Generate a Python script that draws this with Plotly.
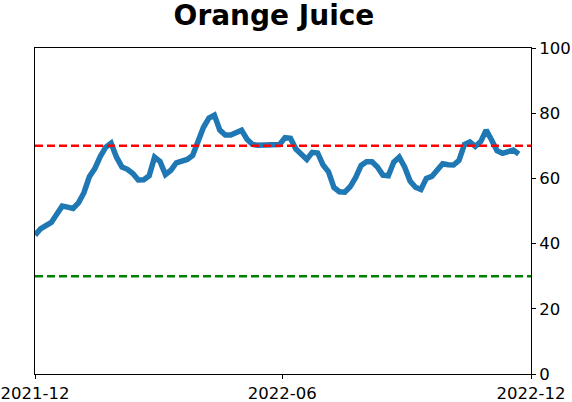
import pandas as pd
import plotly.graph_objects as go

TITLE = "Orange Juice"
START = "2021-12-01"
STEP = "4D"
VALUES = [
    42.6, 44.5, 45.5, 46.5, 49.0, 51.5, 51.2, 50.8, 52.5, 55.6,
    60.5, 63.0, 66.7, 69.5, 70.8, 66.5, 63.5, 62.8, 61.5, 59.5,
    59.6, 60.8, 66.5, 65.2, 61.2, 62.5, 64.8, 65.4, 65.8, 67.0,
    72.0, 75.7, 78.5, 79.4, 74.8, 73.3, 73.3, 74.2, 74.8, 72.0,
    70.4, 70.2, 70.2, 70.6, 70.2, 70.4, 72.5, 72.3, 69.0, 67.5,
    65.8, 68.0, 67.8, 64.1, 62.0, 57.2, 55.9, 55.8, 57.5, 60.3,
    64.0, 65.1, 65.1, 63.5, 61.0, 60.8, 65.0, 66.5, 63.5, 59.2,
    57.3, 56.6, 60.0, 60.6, 62.3, 64.5, 64.2, 64.1, 65.5, 70.4,
    71.2, 69.8, 71.3, 74.8, 71.8, 68.5, 67.7, 68.2, 68.7, 67.5,
]
UPPER = 70
LOWER = 30
X_TICKS = ["2021-12-01", "2022-06-01", "2022-12-01"]
X_TICK_LABELS = ["2021-12", "2022-06", "2022-12"]
Y_TICKS = [0, 20, 40, 60, 80, 100]

dates = pd.date_range(START, periods=len(VALUES), freq=STEP)

fig = go.Figure()
fig.add_trace(go.Scatter(x=dates, y=VALUES, mode="lines",
                         line=dict(color="#1f77b4", width=5.5), showlegend=False))
fig.add_hline(y=UPPER, line=dict(color="#ff0000", width=2.5, dash="8px,4px"))
fig.add_hline(y=LOWER, line=dict(color="#008000", width=2.5, dash="8px,4px"))

axis_common = dict(showline=True, linecolor="black", linewidth=1, mirror=True,
                   ticks="outside", ticklen=4, tickcolor="black", showgrid=False,
                   zeroline=False, automargin=False,
                   tickfont=dict(family="DejaVu Sans", size=16.5, color="black"))

fig.update_layout(
    width=572, height=402,
    margin=dict(l=35, r=41, t=48, b=28),
    paper_bgcolor="white", plot_bgcolor="white",
    title=dict(text="<b>" + TITLE + "</b>", x=0.479, xanchor="center", y=0.986, yanchor="top",
               font=dict(family="DejaVu Sans", size=28, color="black")),
    xaxis=dict(range=["2021-12-01", "2022-12-01"], tickvals=X_TICKS, ticktext=X_TICK_LABELS, **axis_common),
    yaxis=dict(range=[0, 100], side="right", tickvals=Y_TICKS, **axis_common),
)

# page default body margin would shift the plot by 8px
fig.write_html("out.html", config={"displayModeBar": False},
               post_script="document.body.style.margin='0';")
